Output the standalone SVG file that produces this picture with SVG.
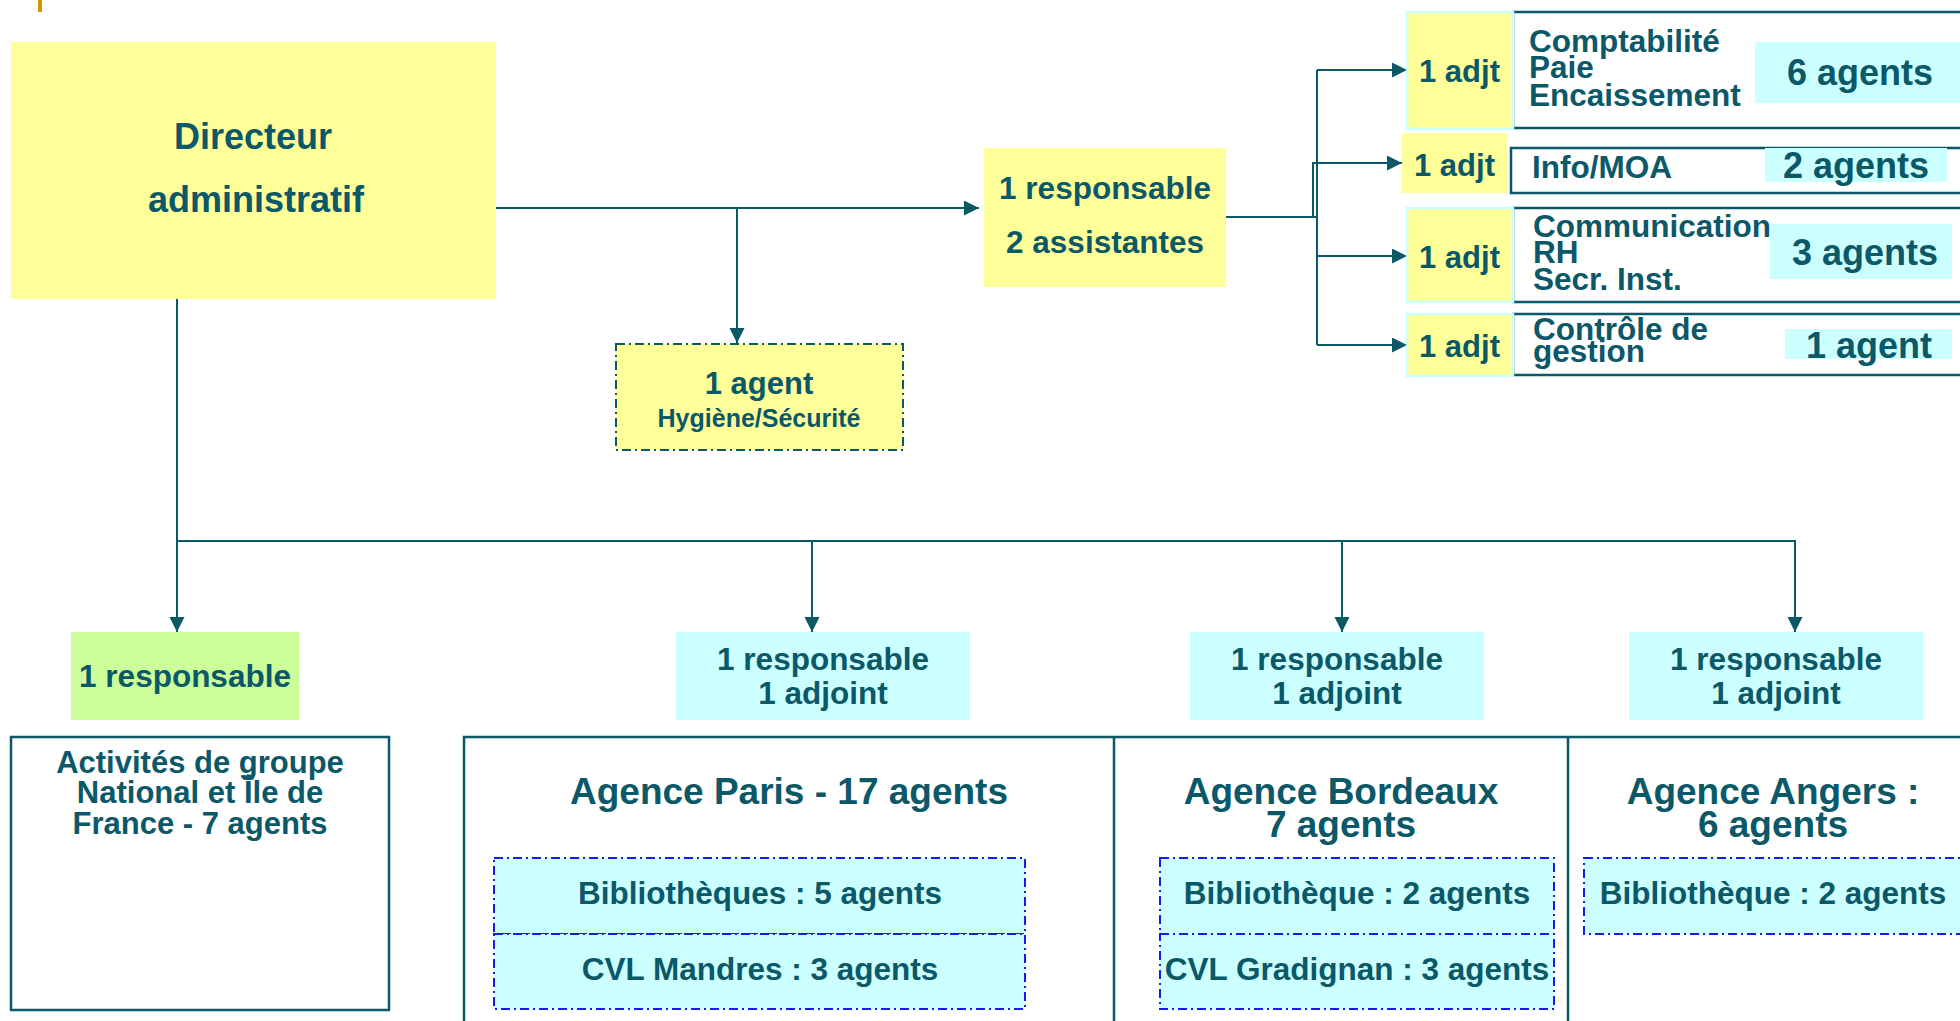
<svg xmlns="http://www.w3.org/2000/svg" width="1960" height="1021" viewBox="0 0 1960 1021">
<defs>
<style>
text{font-family:"Liberation Sans",Arial,sans-serif;font-weight:bold;fill:#0A5868}
.c{text-anchor:middle}
.s{text-anchor:start}
.conn{fill:none;stroke:#0A5868;stroke-width:2}
.yel{fill:#FFFF99}
.cyan{fill:#CCFFFF}
.grn{fill:#CCFF99}
.tb{fill:#FFFFFF;stroke:#0A5868;stroke-width:2.5}
.adj{fill:#FFFF99;stroke:#CCFFFF;stroke-width:2.5}
.dd{stroke:#1A1AF0;stroke-width:2;stroke-dasharray:9,4,2,4}
</style>
<marker id="arr" markerUnits="userSpaceOnUse" markerWidth="16" markerHeight="16" refX="15" refY="7.5" orient="auto">
<path d="M0,0 L15,7.5 L0,15 z" fill="#0A5868"/>
</marker>
</defs>
<rect width="1960" height="1021" fill="#FFFFFF"/>
<rect x="38" y="0" width="4" height="12" fill="#CC9900"/>

<g id="bottom-frames">
<rect x="464" y="737" width="1510" height="300" class="tb"/>
<line x1="1114" y1="737" x2="1114" y2="1021" stroke="#0A5868" stroke-width="2.5"/>
<line x1="1568" y1="737" x2="1568" y2="1021" stroke="#0A5868" stroke-width="2.5"/>
</g>

<g id="connectors">
<path class="conn" d="M496,208 H979" marker-end="url(#arr)"/>
<path class="conn" d="M737,208 V343" marker-end="url(#arr)"/>
<path class="conn" d="M1226,217 H1317"/>
<path class="conn" d="M1317,70 V345"/>
<path class="conn" d="M1317,70 H1407" marker-end="url(#arr)"/>
<path class="conn" d="M1313,217 V163 H1402" marker-end="url(#arr)"/>
<path class="conn" d="M1317,256 H1407" marker-end="url(#arr)"/>
<path class="conn" d="M1317,345 H1407" marker-end="url(#arr)"/>
<path class="conn" d="M177,299 V632" marker-end="url(#arr)"/>
<path class="conn" d="M177,541 H1795 V632" marker-end="url(#arr)"/>
<path class="conn" d="M812,541 V632" marker-end="url(#arr)"/>
<path class="conn" d="M1342,541 V632" marker-end="url(#arr)"/>
</g>

<g id="directeur">
<rect x="11" y="42" width="485" height="257" class="yel"/>
<text x="253" y="149" class="c" font-size="36">Directeur</text>
<text x="256" y="212" class="c" font-size="36">administratif</text>
</g>

<g id="responsable-central">
<rect x="984" y="148" width="242" height="139" class="yel"/>
<text x="1105" y="199" class="c" font-size="31.5">1 responsable</text>
<text x="1105" y="253" class="c" font-size="31.5">2 assistantes</text>
</g>

<g id="hygiene">
<rect x="616" y="344" width="287" height="106" fill="#FFFF99" stroke="#0A5868" stroke-width="2" stroke-dasharray="9,4,2,4"/>
<text x="759" y="394" class="c" font-size="31">1 agent</text>
<text x="759" y="427" class="c" font-size="25">Hygiène/Sécurité</text>
</g>

<g id="row-comptabilite">
<rect x="1513" y="12" width="460" height="116" class="tb"/>
<rect x="1407" y="12" width="106" height="117" class="adj"/>
<text x="1419" y="82" class="s" font-size="31">1 adjt</text>
<text x="1529" y="52" class="s" font-size="31.5">Comptabilité</text>
<text x="1529" y="78" class="s" font-size="31.5">Paie</text>
<text x="1529" y="106" class="s" font-size="31.5">Encaissement</text>
<rect x="1755" y="42" width="210" height="61" class="cyan"/>
<text x="1860" y="85" class="c" font-size="36">6 agents</text>
</g>

<g id="row-info">
<rect x="1402" y="133" width="105" height="60" class="yel"/>
<text x="1414" y="176" class="s" font-size="31">1 adjt</text>
<rect x="1511" y="148" width="462" height="45" class="tb"/>
<text x="1532" y="178" class="s" font-size="31.5">Info/MOA</text>
<rect x="1765" y="148" width="182" height="34" class="cyan"/>
<text x="1856" y="178" class="c" font-size="36">2 agents</text>
</g>

<g id="row-communication">
<rect x="1513" y="208" width="460" height="94" class="tb"/>
<rect x="1407" y="208" width="106" height="94" class="adj"/>
<text x="1419" y="268" class="s" font-size="31">1 adjt</text>
<text x="1533" y="237" class="s" font-size="31.5">Communication</text>
<text x="1533" y="263" class="s" font-size="31.5">RH</text>
<text x="1533" y="290" class="s" font-size="31.5">Secr. Inst.</text>
<rect x="1770" y="224" width="182" height="55" class="cyan"/>
<text x="1865" y="265" class="c" font-size="36">3 agents</text>
</g>

<g id="row-controle">
<rect x="1513" y="314" width="460" height="61" class="tb"/>
<rect x="1407" y="314" width="106" height="62" class="adj"/>
<text x="1419" y="357" class="s" font-size="31">1 adjt</text>
<text x="1533" y="340" class="s" font-size="31.5">Contrôle de</text>
<text x="1533" y="362" class="s" font-size="31.5">gestion</text>
<rect x="1785" y="329" width="167" height="30" class="cyan"/>
<text x="1869" y="358" class="c" font-size="36">1 agent</text>
</g>

<g id="responsable-groupe">
<rect x="71" y="632" width="228" height="88" class="grn"/>
<text x="185" y="687" class="c" font-size="31.5">1 responsable</text>
</g>

<g id="activites-groupe">
<rect x="11" y="737" width="378" height="273" class="tb"/>
<text x="200" y="773" class="c" font-size="31">Activités de groupe</text>
<text x="200" y="803" class="c" font-size="31">National et Île de</text>
<text x="200" y="834" class="c" font-size="31">France - 7 agents</text>
</g>

<g id="paris-responsable">
<rect x="676" y="632" width="294" height="88" class="cyan"/>
<text x="823" y="670" class="c" font-size="31.5">1 responsable</text>
<text x="823" y="704" class="c" font-size="31.5">1 adjoint</text>
</g>

<g id="agence-paris">
<text x="789" y="804" class="c" font-size="37">Agence Paris - 17 agents</text>
<rect x="494" y="858" width="531" height="76" class="cyan dd"/>
<rect x="494" y="934" width="531" height="75" class="cyan dd"/>
<text x="760" y="904" class="c" font-size="31.5">Bibliothèques : 5 agents</text>
<text x="760" y="980" class="c" font-size="31.5">CVL Mandres : 3 agents</text>
</g>

<g id="bordeaux-responsable">
<rect x="1190" y="632" width="294" height="88" class="cyan"/>
<text x="1337" y="670" class="c" font-size="31.5">1 responsable</text>
<text x="1337" y="704" class="c" font-size="31.5">1 adjoint</text>
</g>

<g id="agence-bordeaux">
<text x="1341" y="804" class="c" font-size="37">Agence Bordeaux</text>
<text x="1341" y="837" class="c" font-size="37">7 agents</text>
<rect x="1160" y="858" width="394" height="76" class="cyan dd"/>
<rect x="1160" y="934" width="394" height="75" class="cyan dd"/>
<text x="1357" y="904" class="c" font-size="31.5">Bibliothèque : 2 agents</text>
<text x="1357" y="980" class="c" font-size="31.5">CVL Gradignan : 3 agents</text>
</g>

<g id="angers-responsable">
<rect x="1629" y="632" width="294" height="88" class="cyan"/>
<text x="1776" y="670" class="c" font-size="31.5">1 responsable</text>
<text x="1776" y="704" class="c" font-size="31.5">1 adjoint</text>
</g>

<g id="agence-angers">
<text x="1773" y="804" class="c" font-size="37">Agence Angers :</text>
<text x="1773" y="837" class="c" font-size="37">6 agents</text>
<rect x="1584" y="858" width="390" height="76" class="cyan dd"/>
<text x="1773" y="904" class="c" font-size="31.5">Bibliothèque : 2 agents</text>
</g>
</svg>
